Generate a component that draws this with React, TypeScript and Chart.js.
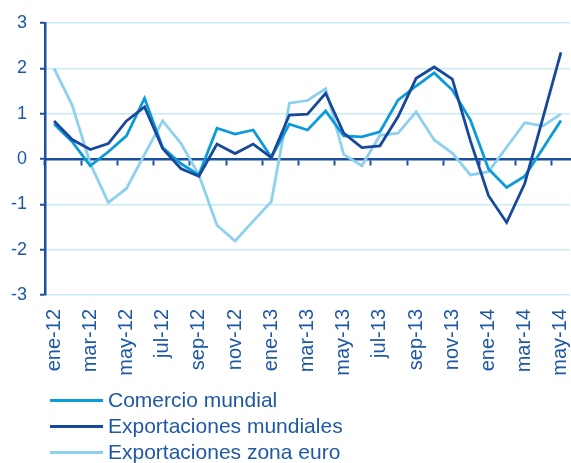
import React, { useEffect, useRef } from "react";
import { Chart, registerables } from "chart.js";

Chart.register(...registerables);

const categories: string[] = [
  "ene-12", "feb-12", "mar-12", "abr-12", "may-12", "jun-12", "jul-12", "ago-12", "sep-12", "oct-12", "nov-12", "dic-12",
  "ene-13", "feb-13", "mar-13", "abr-13", "may-13", "jun-13", "jul-13", "ago-13", "sep-13", "oct-13", "nov-13", "dic-13",
  "ene-14", "feb-14", "mar-14", "abr-14", "may-14",
];

const comercioMundial: number[] = [
  0.77, 0.38, -0.15, 0.16, 0.51, 1.34, 0.25, -0.1, -0.35, 0.68, 0.55, 0.64,
  0.04, 0.77, 0.64, 1.06, 0.51, 0.49, 0.6, 1.3, 1.61, 1.9, 1.52, 0.86,
  -0.22, -0.63, -0.38, 0.23, 0.85,
];

const exportacionesMundiales: number[] = [
  0.84, 0.43, 0.21, 0.34, 0.84, 1.15, 0.23, -0.21, -0.38, 0.33, 0.12, 0.33,
  0.03, 0.97, 0.99, 1.45, 0.57, 0.25, 0.29, 0.93, 1.78, 2.03, 1.76, 0.4,
  -0.81, -1.4, -0.54, 0.9, 2.35,
];

const exportacionesZonaEuro: number[] = [
  2.0, 1.19, -0.1, -0.96, -0.65, 0.1, 0.84, 0.35, -0.35, -1.46, -1.81, -1.37,
  -0.94, 1.23, 1.29, 1.55, 0.1, -0.15, 0.52, 0.57, 1.04, 0.42, 0.13, -0.35,
  -0.28, 0.26, 0.8, 0.73, 0.99,
];

const seriesNames: string[] = ["Comercio mundial", "Exportaciones mundiales", "Exportaciones zona euro"];
const seriesColors: string[] = ["#0b9bd9", "#17489b", "#8ed1ef"];

const yMin = -3;
const yMax = 3;

const TEXT = "#1f58a7";
const AXIS = "#1b4fa0";
const GRID = "#c8ebf8";
const FONT = "'Liberation Sans', Arial, sans-serif";

export default function App() {
  const canvasRef = useRef<HTMLCanvasElement | null>(null);

  useEffect(() => {
    const canvas = canvasRef.current;
    if (!canvas) return;
    const seriesData = [comercioMundial, exportacionesMundiales, exportacionesZonaEuro];
    const chart = new Chart(canvas, {
      type: "line",
      data: {
        labels: categories,
        datasets: seriesNames.map((name, i) => ({
          label: name,
          data: seriesData[i],
          borderColor: seriesColors[i],
          backgroundColor: seriesColors[i],
          borderWidth: 2.8,
          pointRadius: 0,
          tension: 0,
          fill: false,
          xAxisID: "x",
          yAxisID: "y",
          order: i === 2 ? 3 : i === 0 ? 2 : 1,
        })),
      },
      options: {
        animation: false,
        responsive: false,
        devicePixelRatio: 1,
        layout: { padding: { top: 23, right: 1, left: 0, bottom: 0 } },
        plugins: {
          legend: { display: false },
          tooltip: { enabled: false },
        },
        scales: {
          x: {
            type: "category",
            offset: true,
            position: "bottom",
            grid: { display: false, drawTicks: false },
            border: { display: false },
            ticks: {
              autoSkip: false,
              maxRotation: 90,
              minRotation: 90,
              padding: 14,
              color: TEXT,
              font: { family: FONT, size: 20 },
              callback: (_v: any, i: number) => (i % 2 === 0 ? categories[i] : ""),
            },
            afterFit: (s: any) => {
              s.height = 463 - 295;
              s.paddingLeft = 0;
              s.paddingRight = 0;
            },
          },
          x2: {
            type: "category",
            labels: categories,
            offset: true,
            position: { y: 0 },
            grid: {
              offset: true,
              drawOnChartArea: false,
              drawTicks: true,
              tickLength: 5,
              tickWidth: 2,
              tickColor: (ctx: any) => (typeof ctx.index === "number" && ctx.index % 2 === 0 ? AXIS : "rgba(0,0,0,0)"),
            },
            border: { display: true, color: AXIS, width: 2.5 },
            ticks: { display: false, autoSkip: false },
            afterFit: (s: any) => {
              s.paddingLeft = 0;
              s.paddingRight = 0;
            },
          },
          y: {
            min: yMin,
            max: yMax,
            ticks: {
              stepSize: 1,
              color: TEXT,
              padding: 13,
              font: { family: FONT, size: 18 },
            },
            grid: {
              color: GRID,
              lineWidth: 1.5,
              drawTicks: true,
              tickLength: 5,
              tickColor: AXIS,
              tickWidth: 2,
            },
            border: { display: true, color: AXIS, width: 2.5 },
            afterFit: (s: any) => {
              s.width = 45;
              s.paddingTop = 0;
              s.paddingBottom = 0;
            },
          },
        },
      } as any,
    });
    return () => chart.destroy();
  }, []);

  const rowCenters = [400, 426, 452];

  return (
    <div style={{ position: "absolute", left: 0, top: 0, width: 571, height: 463, background: "#fff" }}>
      <canvas ref={canvasRef} width={571} height={463} style={{ position: "absolute", left: 0, top: 0, width: 571, height: 463 }} />
      {seriesNames.map((name, i) => (
        <div
          key={name}
          style={{
            position: "absolute",
            left: 50,
            top: rowCenters[i] - 13,
            height: 26,
            display: "flex",
            alignItems: "center",
            fontFamily: FONT,
            fontSize: 21,
            color: TEXT,
            whiteSpace: "nowrap",
          }}
        >
          <div style={{ width: 53, height: 3, background: seriesColors[i] }} />
          <span style={{ marginLeft: 5 }}>{name}</span>
        </div>
      ))}
    </div>
  );
}
